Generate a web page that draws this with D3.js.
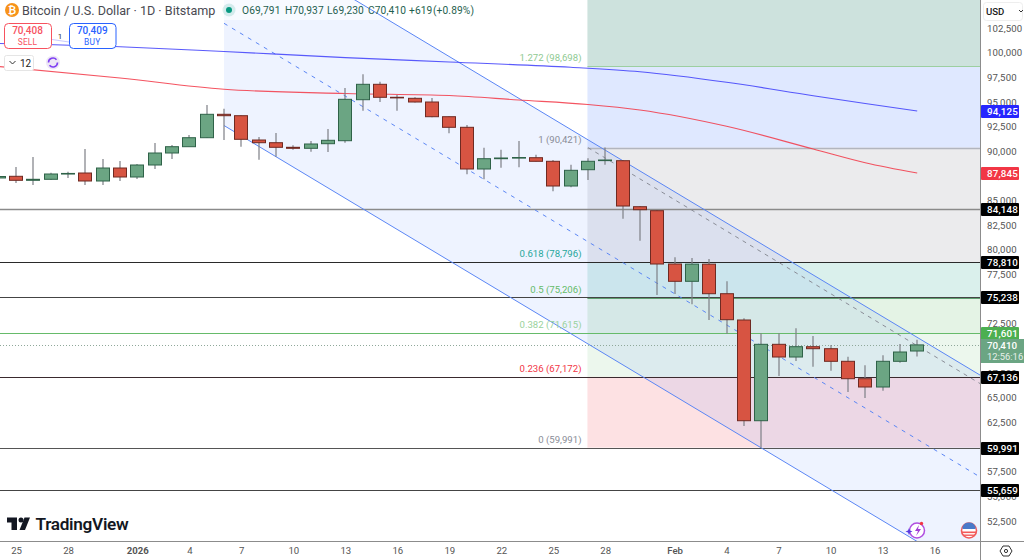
<!DOCTYPE html>
<html><head><meta charset="utf-8">
<style>
html,body{margin:0;padding:0;background:#fff}
svg{display:block}
text{font-family:Roboto,"Open Sans",sans-serif}
</style>
<script src="https://cdn.jsdelivr.net/npm/d3@7/dist/d3.min.js"></script>
</head><body><svg id="c" width="1024" height="560"></svg>
<script>
// ---- data ----
// day index 0 = 24 Dec 2025, 53 = 15 Feb 2026
const opens  = [87340,87510,87104,87206,87740,87844,87033,88351,87439,88656,89873,90512,91424,93798,93656,91191,90917,90451,90349,90816,91120,95278,96840,95522,95420,95045,93554,92479,88250,89295,89366,89396,89031,86526,88179,89100,89092,84427,84022,78615,76860,78600,75603,72936,62722,70471,69183,70228,70025,68747,66982,66141,68747,69791];
const highs  = [87640,88453,89467,87875,87976,90278,89264,89061,88757,90887,90684,91698,94741,94366,93700,91495,91901,90654,91090,92307,96465,97854,97104,95755,95522,95451,93600,92713,90410,90207,91090,89700,89163,88686,89335,90421,89150,84497,84100,79295,79224,79123,76860,73108,71587,71587,72094,71313,70400,69213,68341,69355,70501,70937];
const lows   = [87135,86830,86627,87134,87337,86627,86627,87033,87236,88250,89264,90552,91400,91191,90512,89193,89498,90207,90005,89974,90917,94163,95045,94163,95000,93500,91871,87712,87206,88382,88423,89000,85988,86394,87134,88686,83210,80978,75471,75572,74528,72936,71547,62185,59991,67256,68778,68200,67794,65633,65025,65765,68605,69230];
const closes = [87489,87104,87206,87743,87800,87033,88351,87439,88656,89873,90512,91424,93798,93656,91262,90917,90451,90349,90786,91161,95319,96840,95522,95481,95045,93554,92479,88250,89295,89366,89416,89031,86526,88118,89031,89163,84497,84123,78615,76860,78600,75603,72967,62722,70471,69183,70228,70025,68747,66982,66141,68747,69690,70410];

const maBlueDays = [0,7,13,20,26,33,37,42,47,50,53];
const maBlue     = [100978,100654,100167,99548,99102,98564,98108,97043,95684,94893,94125];
const maRedDays  = [0,7,13,20,26,30,34,37,42,47,50,53];
const maRed      = [98646,97479,96333,95907,95704,95248,94792,94234,92581,90278,88889,87845];

const channelDays  = [13,70];
const channelUpper = [113362,53244];
const channelMid   = [103027,42909];
const channelLower = [92662,32544];

const fibStartDay = 34;
const fibRatios = ["1.272","1","0.618","0.5","0.382","0.236","0"];
const fibPrices = [98698,90421,78796,75206,71615,67172,59991];
const fibLabelColors = ["#8fca92","#8a8d97","#26a69a","#66bb6a","#9ad29c","#f23645","#8a8d97"];
const fibLineColors  = ["#9ccfa0","#b2b5be","#26a69a","#5f9f70","#81c784","#f23645","#9598a1"];
const fibBandColors  = ["#2962ff","#787b86","#089981","#4caf50","#81c784","#f23645"];
const fibTopColor = "#cde2dd";
const fibTrendDays = [34,60], fibTrendPrices = [90421,62920];

const levelPrices = [84148,78810,75238,71601,67136,59991,55659];
const levelColors = ["#8a8a8a","#2a2a2a","#444","#66bb6a","#3a2a2e","#555","#444"];
const levelWidths = [1.6,1,1,1,1,1,1];

const yTicks = [102500,100000,97500,95000,92500,90000,87500,85000,82500,80000,77500,75000,72500,70000,67500,65000,62500,60000,57500,55000,52500];
const xTickDays = [1,4,8,11,14,17,20,23,26,29,32,35,39,42,45,48,51,54];
const xTickLabels = ["25","28","2026","4","7","10","13","16","19","22","25","28","Feb","4","7","10","13","16"];

const ohlcLabels = ["O69,791","H70,937","L69,230","C70,410","+619","(+0.89%)"];
const lastPrice = 70410;
const tagPrices = [94125,87845,84148,78810,75238,71601,67136,59991,55659];
const tagColors = ["#2727ff","#f23645","#000","#000","#000","#4caf50","#000","#000","#000"];

// ---- scales ----
const W=980,H=541;
const x=d3.scaleLinear().domain([0,53]).range([-1.3,917.2]);
const y=d3.scaleLinear().domain([105390,50523]).range([0,541]);
const svg=d3.select("#c");
svg.append("rect").attr("width",1024).attr("height",560).attr("fill","#fff");
svg.append("defs").append("clipPath").attr("id","pl").append("rect").attr("width",W).attr("height",H);
const g=svg.append("g").attr("clip-path","url(#pl)");
const crisp=v=>Math.round(v)+0.5;

// fib bands
const fx0=x(fibStartDay)-0.5, fx1=W;
g.append("rect").attr("x",fx0).attr("y",0).attr("width",fx1-fx0).attr("height",y(fibPrices[0])).attr("fill",fibTopColor);
fibBandColors.forEach((c,i)=>{
  g.append("rect").attr("x",fx0).attr("y",y(fibPrices[i])).attr("width",fx1-fx0)
   .attr("height",y(fibPrices[i+1])-y(fibPrices[i])).attr("fill",c).attr("fill-opacity",.15);
});

// channel fill
const area=d3.area().x(d=>x(d[0])).y0(d=>y(d[1])).y1(d=>y(d[2]));
g.append("path").attr("d",area(channelDays.map((d,i)=>[d,channelUpper[i],channelLower[i]]))).attr("fill","#2962ff").attr("fill-opacity",.08);

// header backdrop
g.append("rect").attr("x",220).attr("y",0).attr("width",256).attr("height",20).attr("fill","#fff").attr("fill-opacity",.55);

// fib lines
fibPrices.forEach((p,i)=>{
  g.append("line").attr("x1",fx0).attr("x2",fx1).attr("y1",crisp(y(p))).attr("y2",crisp(y(p))).attr("stroke",fibLineColors[i]).attr("stroke-width",i==1?1.5:1);
});

// level lines
levelPrices.forEach((p,i)=>{
  g.append("line").attr("x1",0).attr("x2",W).attr("y1",crisp(y(p))).attr("y2",crisp(y(p))).attr("stroke",levelColors[i]).attr("stroke-width",levelWidths[i]);
});

// last price dotted
g.append("line").attr("x1",0).attr("x2",W).attr("y1",crisp(y(lastPrice))).attr("y2",crisp(y(lastPrice))).attr("stroke","#8fa89a").attr("stroke-dasharray","1 2");

// channel lines
const ln=d3.line().x(d=>x(d[0])).y(d=>y(d[1]));
const pts=a=>channelDays.map((d,i)=>[d,a[i]]);
g.append("path").attr("d",ln(pts(channelUpper))).attr("fill","none").attr("stroke","#5b86f5").attr("stroke-width",1);
g.append("path").attr("d",ln(pts(channelLower))).attr("fill","none").attr("stroke","#5b86f5").attr("stroke-width",1);
g.append("path").attr("d",ln(pts(channelMid))).attr("fill","none").attr("stroke","#5b86f5").attr("stroke-width",1).attr("stroke-dasharray","4 5.3");
g.append("path").attr("d",ln(fibTrendDays.map((d,i)=>[d,fibTrendPrices[i]]))).attr("fill","none").attr("stroke","#8a8d97").attr("stroke-width",1).attr("stroke-dasharray","4 4.6");

// moving averages
const sm=d3.line().x(d=>x(d[0])).y(d=>y(d[1])).curve(d3.curveMonotoneX);
g.append("path").attr("d",sm(maBlueDays.map((d,i)=>[d,maBlue[i]]))).attr("fill","none").attr("stroke","#3d3dfa").attr("stroke-width",1.1).attr("stroke-opacity",.85);
g.append("path").attr("d",sm(maRedDays.map((d,i)=>[d,maRed[i]]))).attr("fill","none").attr("stroke","#f23645").attr("stroke-width",1.1).attr("stroke-opacity",.85);

// candles
const idx=d3.range(opens.length);
g.selectAll(".wick").data(idx).join("line").attr("class","wick")
 .attr("x1",i=>crisp(x(i))-0.5).attr("x2",i=>crisp(x(i))-0.5)
 .attr("y1",i=>y(highs[i])).attr("y2",i=>y(lows[i])).attr("stroke","#7d7f85").attr("stroke-width",1.2);
g.selectAll(".body").data(idx).join("rect").attr("class","body")
 .attr("x",i=>Math.round(x(i))-6.5).attr("width",13)
 .attr("y",i=>y(Math.max(opens[i],closes[i])))
 .attr("height",i=>Math.max(0.6,Math.abs(y(opens[i])-y(closes[i]))))
 .attr("fill",i=>closes[i]>=opens[i]?"#6ba583":"#d75442")
 .attr("stroke",i=>closes[i]>=opens[i]?"#2f6248":"#6f2a22").attr("stroke-width",1);

// fib labels
const fmt=d3.format(",");
g.selectAll(".fl").data(fibPrices).join("text").attr("class","fl")
 .attr("x",581.5).attr("y",p=>y(p)-5).attr("text-anchor","end").attr("font-size",9.6)
 .attr("fill",(p,i)=>fibLabelColors[i]).text((p,i)=>`${fibRatios[i]} (${fmt(p)})`);

// axis frame
svg.append("line").attr("x1",W+.5).attr("x2",W+.5).attr("y1",0).attr("y2",560).attr("stroke","#8c8c8c");
svg.append("line").attr("x1",0).attr("x2",1024).attr("y1",H+.5).attr("y2",H+.5).attr("stroke","#8c8c8c");

// axes
const yAxis=d3.axisRight(y).tickValues(yTicks).tickSize(0).tickPadding(0).tickFormat(fmt);
const ya=svg.append("g").attr("transform","translate(987,-0.5)").call(yAxis);
ya.select(".domain").remove();
ya.selectAll("text").attr("font-size",9.6).attr("fill","#555").attr("font-family","Roboto,sans-serif").attr("letter-spacing",".15");

const xAxis=d3.axisBottom(x).tickValues(xTickDays).tickSize(0).tickPadding(0).tickFormat((d,i)=>xTickLabels[i]);
const xa=svg.append("g").attr("transform","translate(0,547)").call(xAxis);
xa.select(".domain").remove();
xa.selectAll("text").attr("font-size",9.6).attr("fill","#555").attr("font-family","Roboto,sans-serif")
 .attr("font-weight",(d,i)=>xTickLabels[i]==="2026"?700:xTickLabels[i]==="Feb"?500:400);

// tags
const tg=svg.append("g").selectAll("g").data(tagPrices).join("g").attr("transform",d=>`translate(981,${Math.round(y(d))-6})`);
tg.append("rect").attr("width",38).attr("height",13).attr("rx",1).attr("fill",(d,i)=>tagColors[i]);
tg.append("text").attr("x",6).attr("y",10).attr("font-size",9.8).attr("font-weight",500).attr("fill","#fff").attr("letter-spacing",".15").text(d=>fmt(d));
const lp=svg.append("g").attr("transform",`translate(981,${Math.round(y(lastPrice))-6})`);
lp.append("rect").attr("width",43).attr("height",24).attr("fill","#6ba583");
lp.append("text").attr("x",6).attr("y",10).attr("font-size",9.8).attr("font-weight",500).attr("fill","#fff").text(fmt(lastPrice));
lp.append("text").attr("x",6).attr("y",21).attr("font-size",9.4).attr("fill","#e6f0ea").text("12:56:16");

// USD button
svg.append("rect").attr("x",983.5).attr("y",2.5).attr("width",39).attr("height",18).attr("rx",3).attr("fill","#fff").attr("stroke","#eee");
svg.append("text").attr("x",986).attr("y",15).attr("font-size",9.6).attr("font-weight",500).attr("fill","#222").text("USD");
svg.append("path").attr("d","M1019 10l2 2 2-2").attr("fill","none").attr("stroke","#333");

// header
svg.append("circle").attr("cx",12).attr("cy",10).attr("r",7).attr("fill","#f7931a");
svg.append("text").attr("x",12).attr("y",13.5).attr("text-anchor","middle").attr("font-size",10).attr("font-weight",700).attr("fill","#fff").text("₿");
svg.append("text").attr("x",22).attr("y",14.5).attr("font-size",12.6).attr("fill","#4a4a52").text("Bitcoin / U.S. Dollar · 1D · Bitstamp");
svg.append("circle").attr("cx",229).attr("cy",10).attr("r",6.5).attr("fill","#089981").attr("fill-opacity",.15);
svg.append("circle").attr("cx",229).attr("cy",10).attr("r",3).attr("fill","#089981");
const ohlcX=d3.scaleOrdinal().domain(ohlcLabels).range([242,285,327,368,409,433]);
svg.selectAll(".ohlc").data(ohlcLabels).join("text").attr("class","ohlc").attr("x",d=>ohlcX(d)).attr("y",14)
 .attr("font-size",10.2).attr("fill","#1f5f4f").attr("letter-spacing",".12").text(d=>d);

// sell / buy
const box=(bx,w,col,a,b)=>{
  svg.append("rect").attr("x",bx+.5).attr("y",23.5).attr("width",w).attr("height",25).attr("rx",4).attr("fill","#fff").attr("stroke",col);
  svg.append("text").attr("x",bx+w/2).attr("y",34).attr("text-anchor","middle").attr("font-size",10).attr("font-weight",500).attr("fill",col).text(a);
  svg.append("text").attr("x",bx+w/2).attr("y",45).attr("text-anchor","middle").attr("font-size",8.4).attr("letter-spacing",".2").attr("fill",col).text(b);
};
svg.append("line").attr("x1",52).attr("x2",69).attr("y1",39.5).attr("y2",42).attr("stroke","#c9c9ff");
box(4,47,"#f7525f","70,408","SELL");
box(69,46.5,"#2962ff","70,409","BUY");
svg.append("text").attr("x",60).attr("y",39).attr("text-anchor","middle").attr("font-size",8).attr("fill","#333").text("1");
svg.append("rect").attr("x",4.5).attr("y",55.5).attr("width",29).attr("height",15).attr("rx",2).attr("fill","#fff").attr("stroke","#e5e5e5");
svg.append("path").attr("d","M9.5 61l3 3 3-3").attr("fill","none").attr("stroke","#333");
svg.append("text").attr("x",20).attr("y",66.5).attr("font-size",10).attr("fill","#222").text("12");
svg.append("circle").attr("cx",53).attr("cy",62.5).attr("r",7).attr("fill","#ede7f6");
svg.append("path").attr("d","M48.5 62.5a4.5 4.5 0 0 1 8-2.8M57.5 62.5a4.5 4.5 0 0 1-8 2.8").attr("fill","none").attr("stroke","#7e3ff2").attr("stroke-width",1.6);

// logo
svg.append("path").attr("d","M7 517.5H17V530H11.5V522.5H7Z").attr("fill","#131722");
svg.append("circle").attr("cx",21).attr("cy",520).attr("r",2.5).attr("fill","#131722");
svg.append("path").attr("d","M24.5 517.5H30L25 530H19.5Z").attr("fill","#131722");
svg.append("text").attr("x",35.5).attr("y",530).attr("font-size",17.2).attr("font-weight",600).attr("fill","#131722").attr("font-family","Inter,Roboto,sans-serif").attr("letter-spacing","-.3").text("TradingView");

// icons bottom right
svg.append("circle").attr("cx",917).attr("cy",530.5).attr("r",7.5).attr("fill","#fff").attr("stroke","#b04fe0").attr("stroke-width",1.5);
svg.append("path").attr("d","M919 525l-4 6h3l-2 5 5-7h-3z").attr("fill","#a33bd6");
svg.append("circle").attr("cx",921.5).attr("cy",523.5).attr("r",1.7).attr("fill","#f23645");
svg.append("path").attr("d","M909 528l1 2.5 2.5 1-2.5 1-1 2.5-1-2.5-2.5-1 2.5-1z").attr("fill","#5a3be0");
svg.append("circle").attr("cx",969).attr("cy",530.5).attr("r",7.5).attr("fill","#fff").attr("stroke","#f25a5a").attr("stroke-width",1.6);
svg.append("path").attr("d","M962.5 527a7 7 0 0 1 13 0v2h-13z").attr("fill","#4a79c9");
svg.append("rect").attr("x",962).attr("y",531.5).attr("width",14).attr("height",1.6).attr("fill","#f25a5a");
svg.append("rect").attr("x",963).attr("y",534.5).attr("width",12).attr("height",1.4).attr("fill","#f25a5a");

// settings
svg.append("path").attr("d","M1003 546h6l3 5-3 5h-6l-3-5z").attr("fill","none").attr("stroke","#333");
svg.append("circle").attr("cx",1006).attr("cy",551).attr("r",1.6).attr("fill","none").attr("stroke","#333");
</script></body></html>
